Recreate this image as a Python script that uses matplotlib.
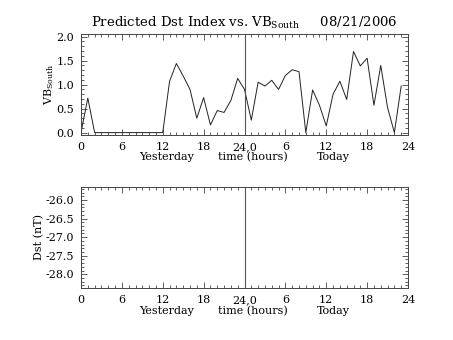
import matplotlib
matplotlib.use("Agg")
import matplotlib.pyplot as plt
from matplotlib.ticker import MultipleLocator, FixedLocator, FormatStrFormatter
import matplotlib.transforms as mtransforms

hours = list(range(48))
vb_south = [0.0, 0.72, 0.0, 0.0, 0.0, 0.0, 0.0, 0.0, 0.0, 0.0, 0.0, 0.0,
            0.0, 1.07, 1.44, 1.18, 0.90, 0.30, 0.73, 0.16, 0.46, 0.42,
            0.67, 1.13, 0.90, 0.26, 1.05, 0.97, 1.09, 0.90, 1.19, 1.31,
            1.27, 0.0, 0.89, 0.57, 0.14, 0.80, 1.07, 0.69, 1.69, 1.39,
            1.55, 0.57, 1.40, 0.52, 0.0, 0.97]
xtick_pos = [0, 6, 12, 18, 24, 30, 36, 42, 48]
xtick_labels = ["0", "6", "12", "18", "24,0", "6", "12", "18", "24"]

plt.rcParams['font.family'] = ['DejaVu Serif']
W, H = 453, 340
fig = plt.figure(figsize=(W/100, H/100), dpi=100)

spine_col = '#444444'
fs = 8

def style(ax):
    ax.set_xlim(0, 48)
    ax.xaxis.set_major_locator(FixedLocator(xtick_pos))
    ax.set_xticklabels(xtick_labels)
    ax.xaxis.set_minor_locator(MultipleLocator(1))
    ax.tick_params(which='both', direction='in', top=True, right=True,
                   colors=spine_col, labelcolor='black', labelsize=fs, width=0.6)
    ax.tick_params(which='major', length=4, pad=5)
    ax.tick_params(which='minor', length=2)
    for s in ax.spines.values():
        s.set_color(spine_col)
        s.set_linewidth(0.7)
    ax.axvline(24, color='#555555', lw=0.8)
    tr = mtransforms.blended_transform_factory(ax.transData, ax.transAxes)
    ax.text(12.5, -0.22, "Yesterday", transform=tr, ha='center', va='center', fontsize=fs)
    ax.text(25.2, -0.22, "time (hours)", transform=tr, ha='center', va='center', fontsize=fs)
    ax.text(37.1, -0.22, "Today", transform=tr, ha='center', va='center', fontsize=fs)

ax1 = fig.add_axes([81/W, 1-135/H, 327/W, 101/H])
ax1.plot(hours, vb_south, color='#222222', lw=0.7)
ax1.set_ylim(-0.05, 2.055)
ax1.yaxis.set_major_locator(MultipleLocator(0.5))
ax1.yaxis.set_minor_locator(MultipleLocator(0.1))
ax1.yaxis.set_major_formatter(FormatStrFormatter('%.1f'))
style(ax1)
ax1.set_ylabel(r"VB$_{\mathregular{South}}$", fontsize=fs, labelpad=0)
ax1.set_title(r"Predicted Dst Index vs. VB$_{\mathregular{South}}$     08/21/2006",
              fontsize=9.5, pad=5)

ax2 = fig.add_axes([81/W, 1-288.3/H, 327/W, 101.6/H])
ax2.set_ylim(-28.38, -25.64)
ax2.yaxis.set_major_locator(MultipleLocator(0.5))
ax2.yaxis.set_minor_locator(MultipleLocator(0.1))
ax2.yaxis.set_major_formatter(FormatStrFormatter('%.1f'))
style(ax2)
ax2.set_ylabel("Dst (nT)", fontsize=fs, labelpad=1)

fig.savefig("out.png", dpi=100)
